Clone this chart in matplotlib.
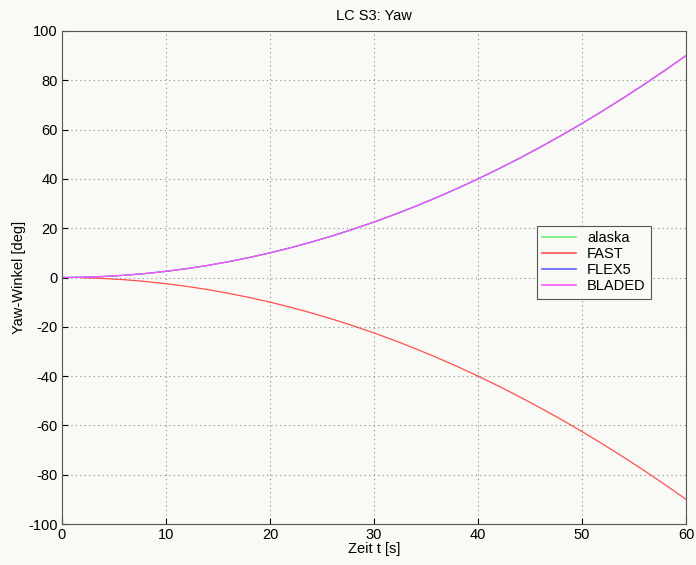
import numpy as np
import matplotlib.pyplot as plt

# time axis [s]
t = [0, 2, 4, 6, 8, 10, 12, 14, 16, 18, 20, 22, 24, 26, 28, 30,
     32, 34, 36, 38, 40, 42, 44, 46, 48, 50, 52, 54, 56, 58, 60]
# yaw angle [deg]
yaw_pos = [0, 0.1, 0.4, 0.9, 1.6, 2.5, 3.6, 4.9, 6.4, 8.1, 10, 12.1, 14.4, 16.9,
           19.6, 22.5, 25.6, 28.9, 32.4, 36.1, 40, 44.1, 48.4, 52.9, 57.6, 62.5,
           67.6, 72.9, 78.4, 84.1, 90]
t_fast = t[1:]
yaw_fast = [-v for v in yaw_pos[1:]]

plt.rcParams["font.family"] = ["Liberation Sans", "DejaVu Sans"]
plt.rcParams["axes.unicode_minus"] = False
bg = "#f9f9f5"

fig = plt.figure(figsize=(6.96, 5.65), dpi=100, facecolor=bg)
ax = fig.add_axes([62 / 696, 1 - 524 / 565, 624 / 696, 493 / 565])
ax.set_facecolor(bg)

ax.plot(t, yaw_pos, color="#70f070", lw=0.9, label="alaska")
ax.plot(t_fast, yaw_fast, color="#ff5050", lw=0.9, label="FAST")
ax.plot(t, yaw_pos, color="#6060ff", lw=0.9, label="FLEX5")
ax.plot(t, yaw_pos, color="#ff55ff", lw=0.9, label="BLADED")

ax.set_xlim(0, 60)
ax.set_ylim(-100, 100)
ax.set_xticks(range(0, 61, 10))
ax.set_yticks(range(-100, 101, 20))
ax.grid(True, linestyle=(0, (1, 3)), color="#888888", lw=0.8)
ax.tick_params(direction="in", labelsize=10.5, length=4, pad=3)
for s in ax.spines.values():
    s.set_color("#555555")
    s.set_linewidth(0.8)

ax.set_title("LC S3: Yaw", fontsize=10.5, pad=8)
ax.set_xlabel("Zeit t [s]", fontsize=10.5, labelpad=0)
ax.set_ylabel("Yaw-Winkel [deg]", fontsize=10.5, labelpad=2)

leg = ax.legend(loc="upper left", bbox_to_anchor=(0.761, 0.605), fontsize=10.5,
                fancybox=False, framealpha=1, edgecolor="#555555",
                handlelength=2.3, borderpad=0.35, labelspacing=0.15,
                handletextpad=0.8, borderaxespad=0)
leg.get_frame().set_facecolor(bg)
leg.get_frame().set_linewidth(0.8)
for line in leg.get_lines():
    line.set_linewidth(1.2)

fig.savefig("out.png", dpi=100, facecolor=bg)
